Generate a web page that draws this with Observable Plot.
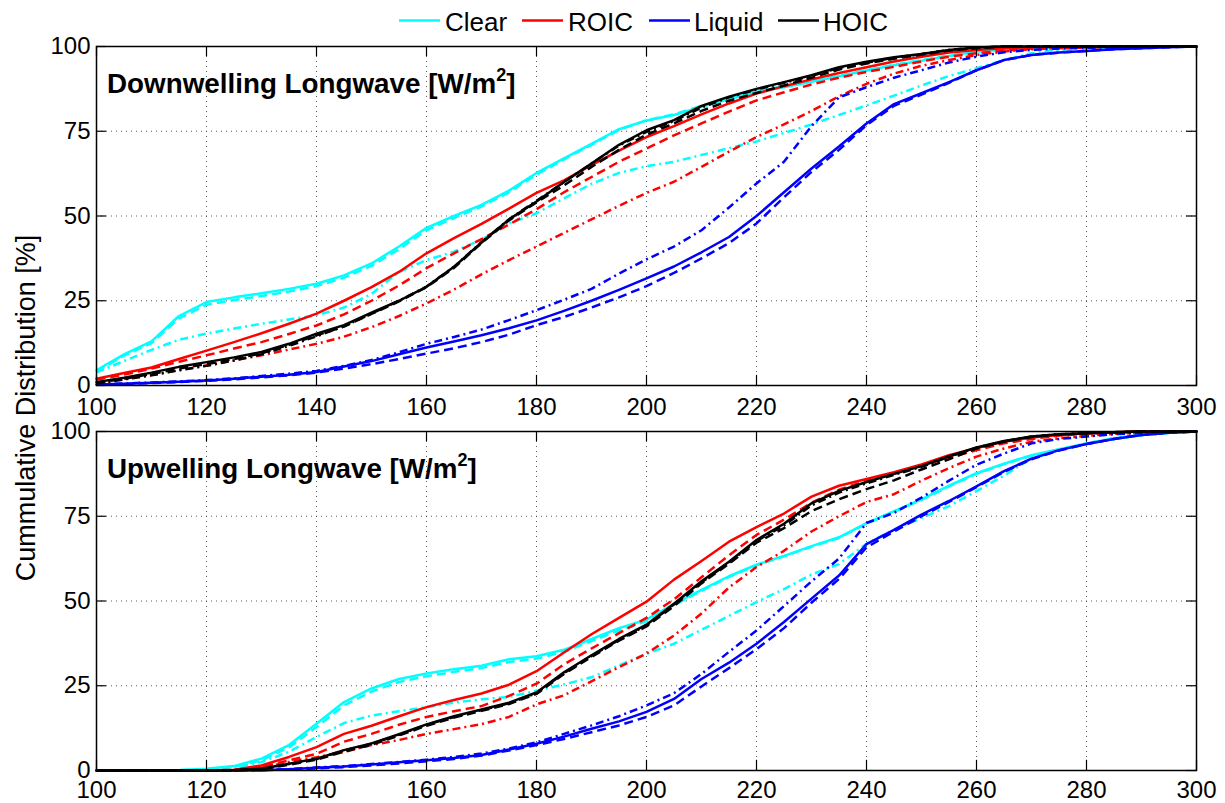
<!DOCTYPE html>
<html><head><meta charset="utf-8">
<script src="https://cdn.jsdelivr.net/npm/d3@7"></script>
<script src="https://cdn.jsdelivr.net/npm/@observablehq/plot@0.6"></script>
<style>
body{margin:0;background:#fff;}
#wrap{position:relative;width:1225px;height:803px;overflow:hidden;background:#fff;}
#wrap svg{display:block;position:absolute;left:0;}
</style></head><body><div id="wrap"></div>
<script>
const FONT = '"Liberation Sans", Arial, Helvetica, sans-serif';
const xs = [100,105,110,115,120,125,130,135,140,145,150,155,160,165,170,175,180,185,190,195,200,205,210,215,220,225,230,235,240,245,250,255,260,265,270,275,280,285,290,295,300];
const xTicks = [100,120,140,160,180,200,220,240,260,280,300];
const yTicks = [0,25,50,75,100];
const xGrid = [120,140,160,180,200,220,240,260,280];
const yGrid = [25,50,75];
const classNames = ["Clear","ROIC","Liquid","HOIC"];
const classColors = ["#00ffff","#ff0000","#0000ff","#000000"];
const dashPatterns = [null,"9,5","8,4,2,4"];
const panelTitles = ["Downwelling Longwave [W/m","Upwelling Longwave [W/m"];
const yLabel = "Cummulative Distribution [%]";

// ---- Downwelling (top panel) ----
const dnClear = [4.5,9.2,13.0,20.5,24.6,26.0,27.2,28.5,30.0,32.5, 36.0,41.0,46.5,50.0,53.3,57.5,62.7,67.0,71.3,75.6, 78.2,79.8,82.2,84.5,86.6,88.0,89.6,91.2,92.9,94.5, 95.8,97.2,98.5,99.1,99.5,99.7,99.8,99.9,100,100, 100];
const dnClearDash = [4.2,8.8,12.5,19.8,23.8,25.2,26.4,27.7,29.3,31.8, 35.3,40.2,45.8,49.4,52.8,57.0,62.2,66.7,71.0,75.4, 78.2,80.0,82.5,84.7,86.8,88.3,89.8,91.4,93.0,94.6, 96.0,97.3,98.5,99.1,99.5,99.7,99.8,99.9,100,100, 100];
const dnClearDD = [3.9,7.2,10.5,13.5,15.3,16.8,18.2,19.5,20.7,23.0, 27.0,33.5,37.0,39.5,43.0,47.8,50.8,55.2,59.5,62.7, 64.7,66.0,68.0,70.0,72.0,74.5,77.0,79.8,82.6,85.5, 88.5,91.3,93.6,96.0,98.0,99.0,99.5,99.8,100,100, 100];
const dnRoic = [2.0,3.7,5.3,7.8,10.3,12.8,15.4,18.2,21.2,25.0, 29.0,33.5,39.0,43.5,47.7,52.2,56.8,60.5,65.0,69.3, 73.3,76.5,80.0,83.2,86.1,88.3,90.3,92.2,93.9,95.6, 97.0,98.2,99.0,99.5,99.8,99.9,100,100,100,100, 100];
const dnRoicDash = [1.7,3.2,5.0,7.0,8.9,10.9,12.8,15.2,17.7,21.0, 25.0,29.5,34.6,39.0,43.2,47.5,52.0,57.0,61.5,66.0, 69.9,73.8,77.3,80.8,84.1,86.5,88.8,90.8,92.5,94.0, 95.6,97.0,98.0,98.8,99.4,99.6,99.8,99.9,100,100, 100];
const dnRoicDD = [0.7,1.8,3.1,4.5,5.9,7.4,8.9,10.6,12.3,14.4, 17.2,20.5,24.2,28.3,32.8,37.0,41.0,45.0,49.0,53.0, 56.8,60.1,64.5,69.0,73.3,77.0,81.0,85.3,89.0,92.0, 94.3,96.0,97.5,98.5,99.2,99.5,99.7,99.9,100,100, 100];
const dnLiquid = [0.3,0.5,0.8,1.1,1.5,2.0,2.6,3.2,4.0,5.6, 7.2,9.2,11.2,13.0,14.8,16.9,19.2,22.0,25.0,28.2, 31.6,35.1,39.3,43.8,50.0,57.0,64.0,70.5,77.3,83.0, 86.2,89.5,93.0,96.0,97.5,98.2,98.7,99.2,99.5,99.8, 100];
const dnLiquidDash = [0.2,0.4,0.7,1.0,1.4,1.8,2.4,3.0,3.8,5.0, 6.3,7.8,9.4,11.0,12.8,15.0,17.8,20.2,23.0,26.0, 29.3,33.2,37.5,42.0,47.8,55.5,63.0,69.5,76.8,82.5, 85.8,89.3,93.0,96.0,97.5,98.2,98.7,99.2,99.5,99.8, 100];
const dnLiquidDD = [0.3,0.6,0.9,1.2,1.6,2.1,2.8,3.5,4.3,5.8, 7.5,9.8,12.3,14.3,16.5,19.3,22.2,25.3,28.5,33.0, 37.2,41.0,45.8,52.5,59.6,66.0,76.5,85.0,88.0,90.8, 93.0,95.3,97.0,98.3,99.0,99.4,99.6,99.8,100,100, 100];
const dnHoic = [1.0,2.3,3.8,5.5,6.9,8.3,9.9,12.3,15.3,17.8, 21.5,25.0,29.1,35.0,42.2,49.0,54.3,60.0,65.5,71.0, 75.3,78.3,82.5,85.2,87.5,89.5,91.5,93.9,95.5,96.8, 97.8,99.0,99.7,100,100,100,100,100,100,100, 100];
const dnHoicDash = [0.8,2.0,3.4,5.0,6.3,7.8,9.5,12.0,14.8,17.4, 21.1,24.8,29.0,34.7,42.0,48.7,54.0,59.0,64.5,69.5, 74.0,77.3,81.0,84.0,86.3,88.5,90.8,93.2,95.0,96.4, 97.6,98.8,99.5,100,100,100,100,100,100,100, 100];
const dnHoicDD = [0.6,1.8,3.0,4.5,5.8,7.4,9.2,11.7,14.5,17.5, 21.2,25.0,29.2,35.0,42.3,49.0,54.5,60.0,65.5,70.8, 74.8,78.0,82.0,85.0,87.3,89.3,91.3,93.7,95.2,96.7, 97.8,99.0,99.7,100,100,100,100,100,100,100, 100];

// ---- Upwelling (bottom panel) ----
const upClear = [0,0,0,0.1,0.5,1.3,3.5,7.5,13.8,20.2, 24.2,27.0,28.6,29.9,30.9,32.8,33.7,35.6,38.8,42.0, 44.5,49.2,53.3,57.3,60.7,63.3,66.2,68.8,73.0,76.5, 80.0,84.0,87.7,90.5,93.0,94.8,96.5,98.0,99.0,99.6, 100];
const upClearDash = [0,0,0,0.1,0.4,1.1,3.0,6.8,12.8,19.2, 23.3,26.1,27.8,29.1,30.2,32.0,33.0,35.0,38.2,41.3, 44.0,48.8,53.0,57.1,60.5,63.2,66.0,68.6,72.8,76.3, 79.8,83.8,87.5,90.4,92.8,94.7,96.3,97.8,98.9,99.6, 100];
const upClearDD = [0,0,0,0,0.3,0.8,2.5,5.5,9.9,14.0, 16.2,17.5,18.7,20.0,21.0,21.7,23.5,25.4,27.5,31.0, 34.4,37.4,41.5,45.6,49.7,53.5,57.8,60.9,66.9,71.0, 74.5,78.0,82.4,87.0,92.0,94.5,96.5,98.0,99.0,99.6, 100];
const upRoic = [0,0,0,0,0,0.2,1.5,4.0,6.9,10.8, 13.2,16.0,18.7,20.8,22.7,25.3,29.3,34.8,40.2,45.0, 49.8,56.3,61.8,67.5,71.8,75.8,80.8,84.0,86.0,88.0, 90.3,93.0,95.1,97.0,98.2,99.0,99.5,99.8,100,100, 100];
const upRoicDash = [0,0,0,0,0,0.1,1.0,3.0,4.9,8.5, 10.8,13.5,15.8,17.5,19.0,22.0,25.6,31.3,36.0,40.5, 45.0,50.5,57.0,63.5,69.5,74.0,79.0,82.8,85.5,87.5, 90.0,92.3,94.5,96.5,97.8,98.8,99.4,99.7,100,100, 100];
const upRoicDD = [0,0,0,0,0,0.1,0.8,2.5,3.9,5.5, 7.5,9.0,10.8,12.2,13.7,15.8,19.5,22.2,26.3,30.5, 34.5,39.8,46.3,54.0,60.0,64.8,70.5,75.0,79.2,81.5, 85.5,89.2,92.6,95.0,97.0,98.0,98.7,99.3,99.7,99.9, 100];
const upLiquid = [0,0,0,0,0,0,0.1,0.4,0.8,1.2, 1.8,2.4,3.0,3.7,4.6,6.2,7.9,10.0,12.3,14.5, 17.3,21.1,27.0,31.8,37.4,43.8,50.7,57.5,66.8,71.0, 75.5,79.5,83.8,88.3,92.0,94.5,96.3,97.8,99.0,99.6, 100];
const upLiquidDash = [0,0,0,0,0,0,0.1,0.3,0.6,1.0, 1.5,2.1,2.7,3.4,4.4,5.9,7.5,9.3,11.3,13.3, 15.8,19.2,24.8,30.2,35.8,42.0,49.5,56.5,65.8,70.5, 75.0,79.2,83.6,88.1,91.8,94.4,96.3,97.8,99.0,99.6, 100];
const upLiquidDD = [0,0,0,0,0,0,0.1,0.4,0.9,1.3, 1.9,2.5,3.2,4.0,5.0,6.5,8.3,10.8,13.3,16.0, 19.2,22.8,28.5,35.0,41.3,48.5,55.8,62.5,73.0,76.0, 80.5,85.5,90.2,93.5,96.5,97.8,98.5,99.2,99.6,99.9, 100];
const upHoic = [0,0,0,0,0,0.1,0.5,2.0,3.5,6.0, 8.0,10.7,13.6,16.0,18.0,20.0,23.0,29.0,34.0,38.8, 43.0,49.2,55.8,61.6,68.0,72.8,78.8,82.5,85.1,87.5, 89.8,92.7,95.3,97.2,98.5,99.2,99.5,99.8,100,100, 100];
const upHoicDash = [0,0,0,0,0,0.1,0.4,1.7,3.2,5.6, 7.6,10.3,13.2,15.6,17.6,19.6,22.6,28.5,33.5,38.3, 42.5,48.5,55.2,61.0,67.2,71.5,76.5,80.0,83.0,85.6, 88.8,91.8,95.0,97.0,98.4,99.1,99.5,99.8,100,100, 100];
const upHoicDD = [0,0,0,0,0,0.1,0.5,1.9,3.4,5.9, 7.9,10.5,13.5,15.8,17.8,19.8,22.8,28.7,33.8,38.5, 42.8,49.0,55.5,61.3,67.7,72.3,78.2,82.0,84.7,87.2, 89.6,92.5,95.2,97.1,98.5,99.2,99.5,99.8,100,100, 100];

const panelSeries = [
  [[dnClear,dnClearDash,dnClearDD],[dnRoic,dnRoicDash,dnRoicDD],[dnLiquid,dnLiquidDash,dnLiquidDD],[dnHoic,dnHoicDash,dnHoicDD]],
  [[upClear,upClearDash,upClearDD],[upRoic,upRoicDash,upRoicDD],[upLiquid,upLiquidDash,upLiquidDD],[upHoic,upHoicDash,upHoicDD]]
];

function makePanel(idx, top, height, mt, mb, titleBaseline, bg, xPad) {
  const lineMarks = [];
  panelSeries[idx].forEach((cls, ci) => {
    cls.forEach((vals, si) => {
      const pts = xs.map((x, i) => ({x, y: vals[i]})).filter(d => d.y != null);
      const opts = {x: "x", y: "y", stroke: classColors[ci], strokeWidth: 2.5, curve: "linear", strokeLinejoin: "round"};
      if (dashPatterns[si]) { opts.strokeDasharray = dashPatterns[si]; opts.strokeLinecap = "butt"; }
      lineMarks.push(Plot.line(pts, opts));
    });
  });
  const svg = Plot.plot({
    width: 1225, height, marginLeft: 96, marginRight: 29, marginTop: mt, marginBottom: mb,
    style: {fontFamily: FONT, fontSize: "24px", color: "#000", background: bg, overflow: "visible"},
    x: {domain: [100, 300]},
    y: {domain: [0, 100]},
    marks: [
      Plot.ruleX(xGrid, {x: d => d, stroke: "#333", strokeWidth: 1, strokeDasharray: "1,4", strokeOpacity: 0.8}),
      Plot.ruleY(yGrid, {y: d => d, stroke: "#333", strokeWidth: 1, strokeDasharray: "1,4", strokeOpacity: 0.8}),
      ...lineMarks,
      Plot.ruleX(xTicks, {x: d => d, y1: 0, y2: 3, stroke: "#000", strokeWidth: 1.2}),
      Plot.ruleX(xTicks, {x: d => d, y1: 97, y2: 100, stroke: "#000", strokeWidth: 1.2}),
      Plot.ruleY(yTicks, {y: d => d, x1: 100, x2: 101.8, stroke: "#000", strokeWidth: 1.2}),
      Plot.ruleY(yTicks, {y: d => d, x1: 298.2, x2: 300, stroke: "#000", strokeWidth: 1.2}),
      Plot.frame({stroke: "#000", strokeWidth: 1.5}),
      Plot.axisX({ticks: xTicks, tickSize: 0, tickPadding: xPad, label: null, tickFormat: d => String(d), fontSize: 24}),
      Plot.axisY({ticks: yTicks, tickSize: 0, tickPadding: 6, label: null, tickFormat: d => String(d), fontSize: 24})
    ]
  });
  svg.style.top = top + "px";
  const s = d3.select(svg);
  const t = s.append("text")
    .attr("x", 107).attr("y", titleBaseline).attr("text-anchor", "start")
    .attr("font-family", FONT).attr("font-size", 27.8).attr("font-weight", "bold").attr("fill", "#000");
  t.append("tspan").text(panelTitles[idx]);
  t.append("tspan").attr("dy", -12).attr("font-size", 18).text("2");
  t.append("tspan").attr("dy", 12).text("]");
  return svg;
}

const wrap = document.getElementById("wrap");
// top panel: frame 46..385 ; bottom panel: frame 431..770
wrap.appendChild(makePanel(0, 0, 430, 46, 45, 93, "#fff", 12));
wrap.appendChild(makePanel(1, 400, 403, 31, 33, 78, "transparent", 10));

// overlay: legend + shared y label
const ov = d3.create("svg").attr("width", 1225).attr("height", 803)
  .style("top", "0px").style("pointer-events", "none")
  .attr("font-family", FONT);
const legendTextX = [445, 568, 694, 823];
const legendLineX = [399, 522, 649, 778];
classNames.forEach((name, i) => {
  ov.append("line").attr("x1", legendLineX[i]).attr("x2", legendLineX[i] + 41)
    .attr("y1", 20.5).attr("y2", 20.5).attr("stroke", classColors[i]).attr("stroke-width", 2.5);
  ov.append("text").attr("x", legendTextX[i]).attr("y", 31).attr("font-size", 26).attr("fill", "#000").text(name);
});
ov.append("text").attr("transform", "translate(35,408) rotate(-90)").attr("text-anchor", "middle")
  .attr("font-size", 27).attr("fill", "#000").text(yLabel);
wrap.appendChild(ov.node());
</script></body></html>
